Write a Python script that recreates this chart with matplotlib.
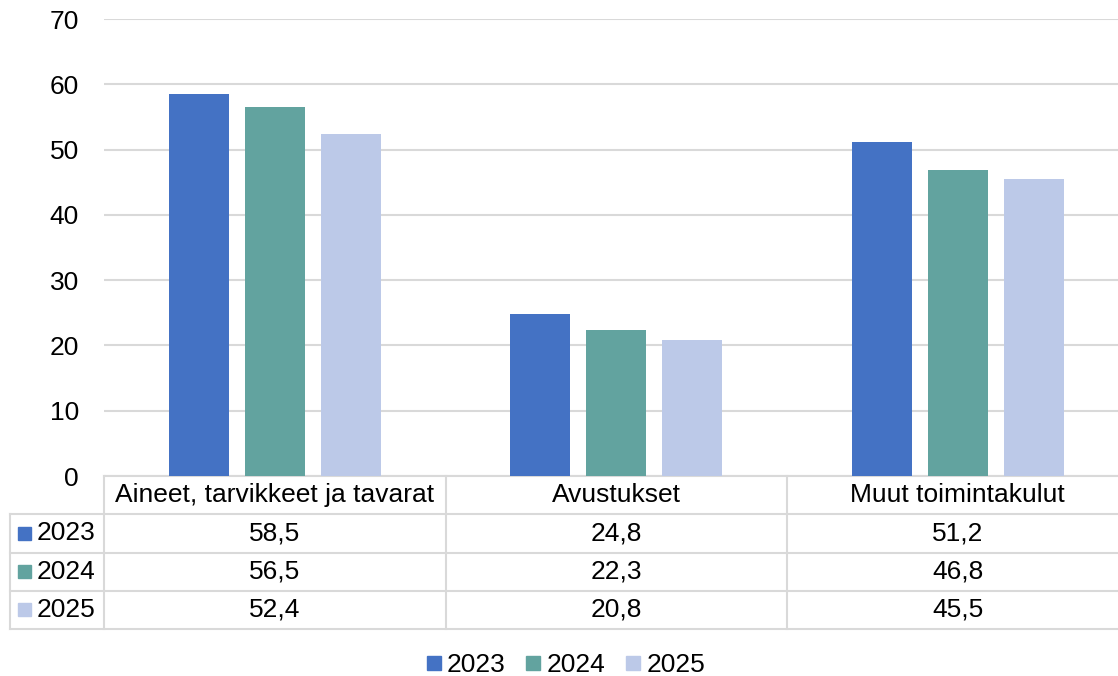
import matplotlib
matplotlib.use("Agg")
import matplotlib.pyplot as plt
from matplotlib.patches import Rectangle
from matplotlib.lines import Line2D
import numpy as np

plt.rcParams['font.family'] = ['Liberation Sans', 'DejaVu Sans']

categories = ["Aineet, tarvikkeet ja tavarat", "Avustukset", "Muut toimintakulut"]
years = ["2023", "2024", "2025"]
values_2023 = [58.5, 24.8, 51.2]
values_2024 = [56.5, 22.3, 46.8]
values_2025 = [52.4, 20.8, 45.5]
series = [values_2023, values_2024, values_2025]
colors = ["#4472C4", "#62A39F", "#BCC9E8"]
yticks = [0, 10, 20, 30, 40, 50, 60, 70]

W, H = 1118, 676
fig = plt.figure(figsize=(W / 100, H / 100), dpi=100)

grid_col = "#D9D9D9"
fs = 19

# plot area in pixels (right edge runs slightly past the canvas)
x0, x1 = 104, 1128.5
y_top, y_bot = 19, 476
ax = fig.add_axes([x0 / W, 1 - y_bot / H, (x1 - x0) / W, (y_bot - y_top) / H])

n = len(categories)
ppu = (x1 - x0) / n
centers = np.arange(n) + 0.5
bw = 60 / ppu
step = 76 / ppu
for i, (vals, c) in enumerate(zip(series, colors)):
    ax.bar(centers + (i - 1) * step, vals, width=bw, color=c, zorder=3)

ax.set_xlim(0, n)
ax.set_ylim(0, 70)
ax.set_yticks(yticks)
ax.set_yticklabels([str(t) for t in yticks], fontsize=fs)
ax.tick_params(axis='y', length=0, pad=18)
ax.set_xticks([])
ax.grid(axis='y', color=grid_col, linewidth=1.5, zorder=0)
for s in ['top', 'right', 'left']:
    ax.spines[s].set_visible(False)
ax.spines['bottom'].set_color(grid_col)
ax.spines['bottom'].set_linewidth(1.5)

# data table below the plot
t_left, t_bot = 10, 629
tab = fig.add_axes([t_left / W, 1 - t_bot / H, (x1 - t_left) / W, (t_bot - y_bot) / H])
xl = -(x0 - t_left) / ppu
tab.set_xlim(xl, n)
tab.set_ylim(4, 0)
tab.axis('off')

lk = dict(color=grid_col, linewidth=1.5, clip_on=False)
for r in [1, 2, 3, 4]:
    tab.plot([xl, n], [r, r], **lk)
for cx in [0, 1, 2, 3]:
    tab.plot([cx, cx], [0, 4], **lk)
tab.plot([xl, xl], [1, 4], **lk)

for j, cat in enumerate(categories):
    tab.text(j + 0.5, 0.5, cat, ha='center', va='center', fontsize=fs)
for i, (yr, vals, c) in enumerate(zip(years, series, colors)):
    r = i + 1.5
    sq = 13 / ppu
    tab.add_patch(Rectangle((xl + 8 / ppu, r - 0.17), sq, 0.34, color=c, clip_on=False))
    tab.text(xl + 27 / ppu, r, yr, ha='left', va='center', fontsize=fs)
    for j, v in enumerate(vals):
        tab.text(j + 0.5, r, f"{v:.1f}".replace('.', ','), ha='center', va='center', fontsize=fs)

handles = [Line2D([], [], marker='s', linestyle='none', markersize=10, color=c) for c in colors]
fig.legend(handles, years, loc='center', bbox_to_anchor=(566 / W, 1 - 665 / H), ncol=3,
           frameon=False, fontsize=fs, handlelength=0.5, handletextpad=0.25,
           columnspacing=0.8)

fig.savefig("out.png", dpi=100)
